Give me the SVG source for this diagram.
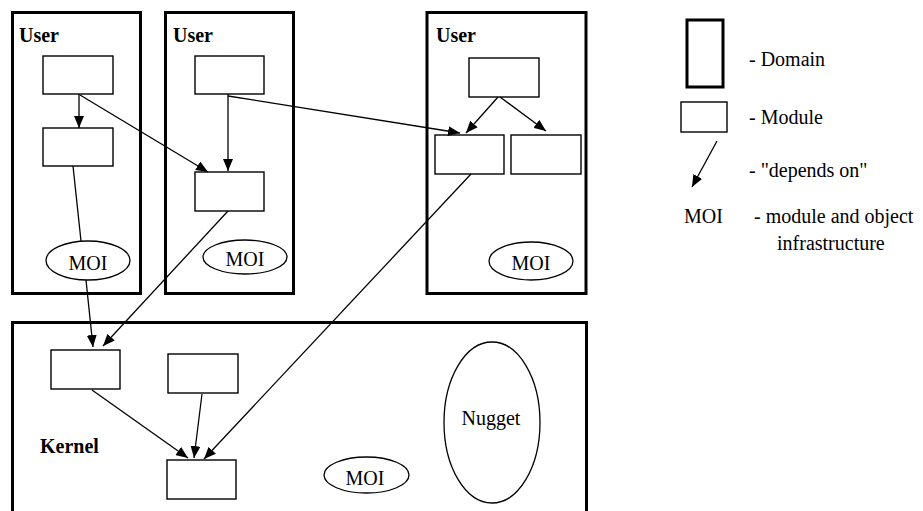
<svg xmlns="http://www.w3.org/2000/svg" width="923" height="511" viewBox="0 0 923 511">
  <style>
    text { font-size: 20px; fill: #000; }
    .lbl { font-weight: bold; }
    .mid { text-anchor: middle; }
    .domain { fill: none; stroke: #000; stroke-width: 3; }
    .module { fill: #fff; stroke: #000; stroke-width: 1.4; }
    .oval { fill: #fff; stroke: #000; stroke-width: 1.3; }
    .edge { fill: none; stroke: #000; stroke-width: 1.3; }
    .dep { marker-end: url(#arrow); }
  </style>
  <defs>
    <marker id="arrow" markerUnits="userSpaceOnUse" markerWidth="13" markerHeight="10" refX="12" refY="5" orient="auto">
      <path d="M0,0 L12,5 L0,10 Z" fill="#000"/>
    </marker>
  </defs>
  <rect width="923" height="511" fill="#fff"/>

  <g font-family="Liberation Serif">
  <!-- user domain 1 -->
  <g id="domain-user-1">
    <rect class="domain" x="12.5" y="12.5" width="128" height="281"/>
    <text class="lbl" x="19" y="42">User</text>
    <rect id="mod-u1-a" class="module" x="43" y="56" width="70" height="38"/>
    <rect id="mod-u1-b" class="module" x="43" y="128" width="70" height="38"/>
    <g id="moi-u1">
      <ellipse class="oval" cx="88" cy="260.5" rx="42" ry="19.5"/>
      <text class="mid" x="88" y="270">MOI</text>
    </g>
  </g>

  <!-- user domain 2 -->
  <g id="domain-user-2">
    <rect class="domain" x="165.5" y="12.5" width="128" height="281"/>
    <text class="lbl" x="173" y="42">User</text>
    <rect id="mod-u2-a" class="module" x="195" y="56" width="69" height="38"/>
    <rect id="mod-u2-b" class="module" x="195" y="172" width="69" height="39"/>
    <g id="moi-u2">
      <ellipse class="oval" cx="245" cy="257" rx="42" ry="17"/>
      <text class="mid" x="245" y="266">MOI</text>
    </g>
  </g>

  <!-- user domain 3 -->
  <g id="domain-user-3">
    <rect class="domain" x="427" y="12.5" width="159" height="281"/>
    <text class="lbl" x="436" y="42">User</text>
    <rect id="mod-u3-a" class="module" x="469" y="58" width="70" height="39"/>
    <rect id="mod-u3-b" class="module" x="435" y="135" width="69" height="39"/>
    <rect id="mod-u3-c" class="module" x="511" y="135" width="70" height="39"/>
    <g id="moi-u3">
      <ellipse class="oval" cx="531" cy="261" rx="42" ry="19"/>
      <text class="mid" x="531" y="270">MOI</text>
    </g>
  </g>

  <!-- kernel domain -->
  <g id="domain-kernel">
    <rect class="domain" x="12.5" y="322.5" width="574" height="200"/>
    <text class="lbl" x="40" y="453">Kernel</text>
    <rect id="mod-k-a" class="module" x="51" y="350" width="69" height="39"/>
    <rect id="mod-k-b" class="module" x="168" y="354" width="70" height="39"/>
    <rect id="mod-k-c" class="module" x="167" y="460" width="69" height="39"/>
    <g id="moi-kernel">
      <ellipse class="oval" cx="366.5" cy="475" rx="42.5" ry="18"/>
      <text class="mid" x="365" y="485">MOI</text>
    </g>
    <g id="nugget">
      <ellipse class="oval" cx="492" cy="422.5" rx="48" ry="80.5"/>
      <text class="mid" x="491" y="425">Nugget</text>
    </g>
  </g>

  <!-- dependencies -->
  <g id="connectors">
    <line class="edge dep" x1="79" y1="94" x2="79" y2="128"/>
    <line class="edge dep" x1="80" y1="95" x2="208" y2="172"/>
    <line class="edge" x1="73" y1="166" x2="81" y2="241"/>
    <line class="edge dep" x1="86" y1="280" x2="93" y2="347"/>
    <line class="edge dep" x1="228" y1="94" x2="228" y2="171"/>
    <line class="edge dep" x1="228" y1="96" x2="460" y2="133"/>
    <line class="edge dep" x1="228" y1="211" x2="103" y2="346"/>
    <line class="edge dep" x1="498" y1="97" x2="466" y2="133"/>
    <line class="edge dep" x1="500" y1="97" x2="546" y2="131"/>
    <line class="edge dep" x1="471" y1="174" x2="204" y2="459"/>
    <line class="edge dep" x1="92" y1="390" x2="188" y2="458"/>
    <line class="edge dep" x1="202" y1="394" x2="194" y2="458"/>
  </g>

  <!-- key -->
  <g id="legend">
    <rect class="domain" x="687" y="20" width="36" height="67"/>
    <text x="749" y="66">- Domain</text>
    <rect class="module" x="681" y="102" width="46" height="30"/>
    <text x="749" y="124">- Module</text>
    <line class="edge dep" x1="717" y1="141" x2="692" y2="187"/>
    <text x="749" y="177">- "depends on"</text>
    <text x="684" y="223">MOI</text>
    <text x="754" y="223">- module and object</text>
    <text x="777" y="250">infrastructure</text>
  </g>
  </g>
</svg>
